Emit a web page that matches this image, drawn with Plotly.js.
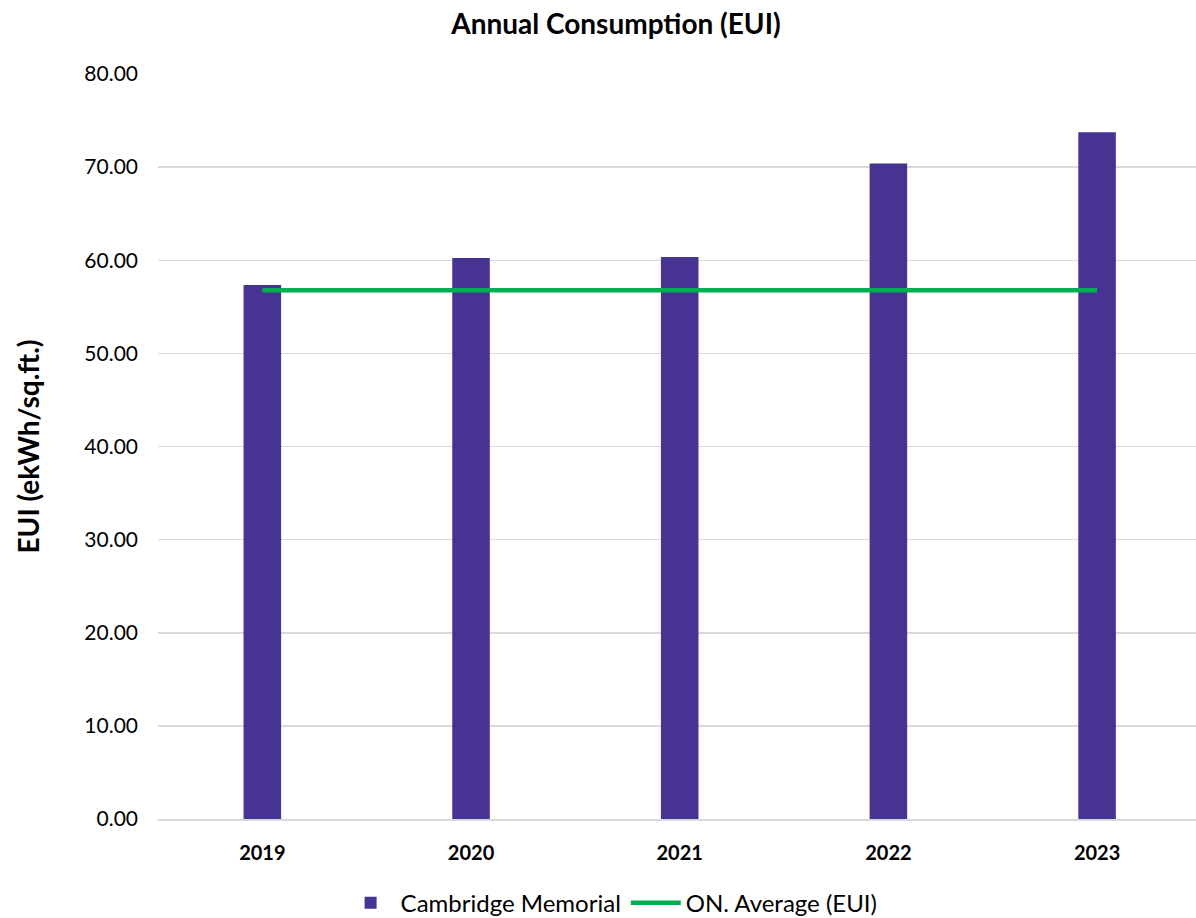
<!DOCTYPE html>
<html>
<head>
<meta charset="utf-8">
<script src="https://cdn.plot.ly/plotly-3.0.1.min.js"></script>
<style>html,body{margin:0;padding:0;background:#fff;}#chart{width:1196px;height:918px;}</style>
</head>
<body>
<div id="chart"></div>
<script>
const years = ['2019', '2020', '2021', '2022', '2023'];
const cambridgeEUI = [57.34, 60.24, 60.35, 70.40, 73.75];
const onAverageEUI = [56.78, 56.78, 56.78, 56.78, 56.78];
const yTicks = [0, 10, 20, 30, 40, 50, 60, 70, 80];
const yTickText = yTicks.map(v => v.toFixed(2));

const FONT = 'Lato, "Open Sans", sans-serif';

const traces = [
  {
    type: 'bar',
    name: 'Cambridge Memorial',
    x: years,
    y: cambridgeEUI,
    width: 0.18,
    marker: {color: '#473391', line: {width: 0}},
    hoverinfo: 'x+y'
  },
  {
    type: 'scatter',
    mode: 'lines',
    name: 'ON. Average (EUI)',
    x: years,
    y: onAverageEUI,
    line: {color: '#00B050', width: 4.5}
  }
];

const layout = {
  width: 1196,
  height: 918,
  margin: {l: 158, r: 0, t: 74, b: 99, autoexpand: false},
  paper_bgcolor: '#ffffff',
  plot_bgcolor: '#ffffff',
  font: {family: FONT, color: '#000000', size: 20},
  title: {
    text: '<b>Annual Consumption (EUI)</b>',
    font: {family: FONT, size: 28, color: '#000'},
    x: 0.515, xanchor: 'center',
    y: 0.974, yanchor: 'middle'
  },
  showlegend: true,
  legend: {
    orientation: 'h',
    x: 0.437, xanchor: 'center',
    yref: 'container',
    y: 0.0163, yanchor: 'middle',
    font: {family: FONT, size: 24, color: '#000'},
    itemwidth: 50,
    tracegroupgap: 0
  },
  xaxis: {
    type: 'category',
    range: [-0.5, 4.474],
    tickfont: {family: FONT, size: 20, color: '#000', weight: 'bold'},
    ticklabelstandoff: 15,
    showgrid: false,
    showline: true,
    linecolor: '#D9D9D9',
    linewidth: 1.5,
    ticks: '',
    automargin: false,
    fixedrange: true
  },
  yaxis: {
    range: [0, 80],
    tickvals: yTicks,
    ticktext: yTickText,
    tickfont: {family: FONT, size: 21, color: '#000'},
    ticklabelstandoff: 19,
    showgrid: true,
    gridcolor: '#D9D9D9',
    gridwidth: 1.5,
    zeroline: false,
    showline: false,
    ticks: '',
    automargin: false,
    title: {
      text: '<b>EUI (ekWh/sq.ft.)</b>',
      font: {family: FONT, size: 28, color: '#000'},
      standoff: 36
    },
    fixedrange: true
  },
  bargap: 0.82
};

Plotly.newPlot('chart', traces, layout, {displayModeBar: false, staticPlot: true});
</script>
</body>
</html>
